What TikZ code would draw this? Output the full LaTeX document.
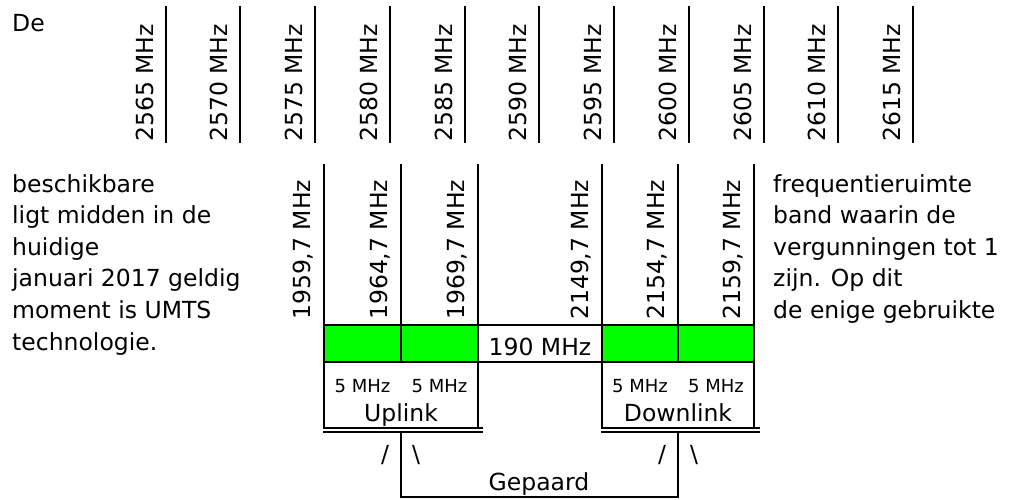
\documentclass[tikz,border=0pt]{standalone}
\usepackage{fontspec}
\setmainfont{DejaVu Sans}
\definecolor{bandgreen}{RGB}{0,255,0}
\begin{document}
\begin{tikzpicture}[x=1pt,y=-1pt,
  font=\fontsize{23.5}{31.6}\selectfont,
  ln/.style={line width=2pt},
  rlabel/.style={rotate=90,anchor=base west,inner sep=0pt},
  txt/.style={anchor=base west,inner sep=0pt},
  ctxt/.style={anchor=base,inner sep=0pt},
  small/.style={anchor=base,inner sep=0pt,font=\fontsize{18}{22}\selectfont}]
\useasboundingbox (0,0) rectangle (1009,500);
% top row
\node[txt] (de) at (12,32) {De};
\foreach \f [count=\i from 0] in {2565,2570,...,2615}{
  \pgfmathsetmacro\xx{165.5+74.75*\i}
  \draw[ln] (\xx,6) -- (\xx,143);
  \node[rlabel] (t\i) at (\xx-12.5,142) {\f\ MHz};
}
% left text
\foreach \t [count=\i from 0] in {beschikbare,ligt midden in de,huidige,januari 2017 geldig,moment is UMTS,technologie.}{
  \node[txt] (l\i) at (12,192+31.6*\i) {\t};
}
% right text
\foreach \t [count=\i from 0] in {frequentieruimte,band waarin de,vergunningen tot 1,zijn. Op dit,de enige gebruikte}{
  \node[txt] (r\i) at (773,192+31.6*\i) {\t};
}
% middle lines and labels
\foreach \xx/\lab [count=\i] in {324/1959,401/1964,478/1969,602/2149,678/2154,754/2159}{
  \draw[ln] (\xx,164) -- (\xx,325);
  \node[rlabel] (m\i) at (\xx-14,320) {\lab,7 MHz};
}
% green bands
\fill[bandgreen] (324,325) rectangle (478,362);
\fill[bandgreen] (602,325) rectangle (754,362);
\draw[ln] (324,325) rectangle (754,362);
\foreach \xx in {401,478,602,678}{\draw[ln] (\xx,325) -- (\xx,362);}
\node[ctxt] (gap) at (540,355) {190 MHz};
% uplink / downlink boxes
\draw[ln] (324,362) -- (324,428);
\draw[ln] (478,362) -- (478,428);
\draw[ln] (602,362) -- (602,428);
\draw[ln] (754,362) -- (754,428);
\draw[ln] (323,428) -- (483,428);
\draw[ln] (323,432) -- (483,432);
\draw[ln] (601,428) -- (760,428);
\draw[ln] (601,432) -- (760,432);
\node[small] (u1) at (362.5,392) {5 MHz};
\node[small] (u2) at (439.5,392) {5 MHz};
\node[small] (d1) at (640,392) {5 MHz};
\node[small] (d2) at (716,392) {5 MHz};
\node[ctxt] (up) at (401,421) {Uplink};
\node[ctxt] (down) at (678,421) {Downlink};
% pairing
\draw[ln] (401,432) -- (401,497) -- (678,497) -- (678,432);
\node[ctxt] (s1) at (385,462) {/};
\node[ctxt] (s2) at (416,462) {\textbackslash};
\node[ctxt] (s3) at (662,462) {/};
\node[ctxt] (s4) at (694,462) {\textbackslash};
\node[ctxt] (gep) at (539,490) {Gepaard};
\end{tikzpicture}
\end{document}
